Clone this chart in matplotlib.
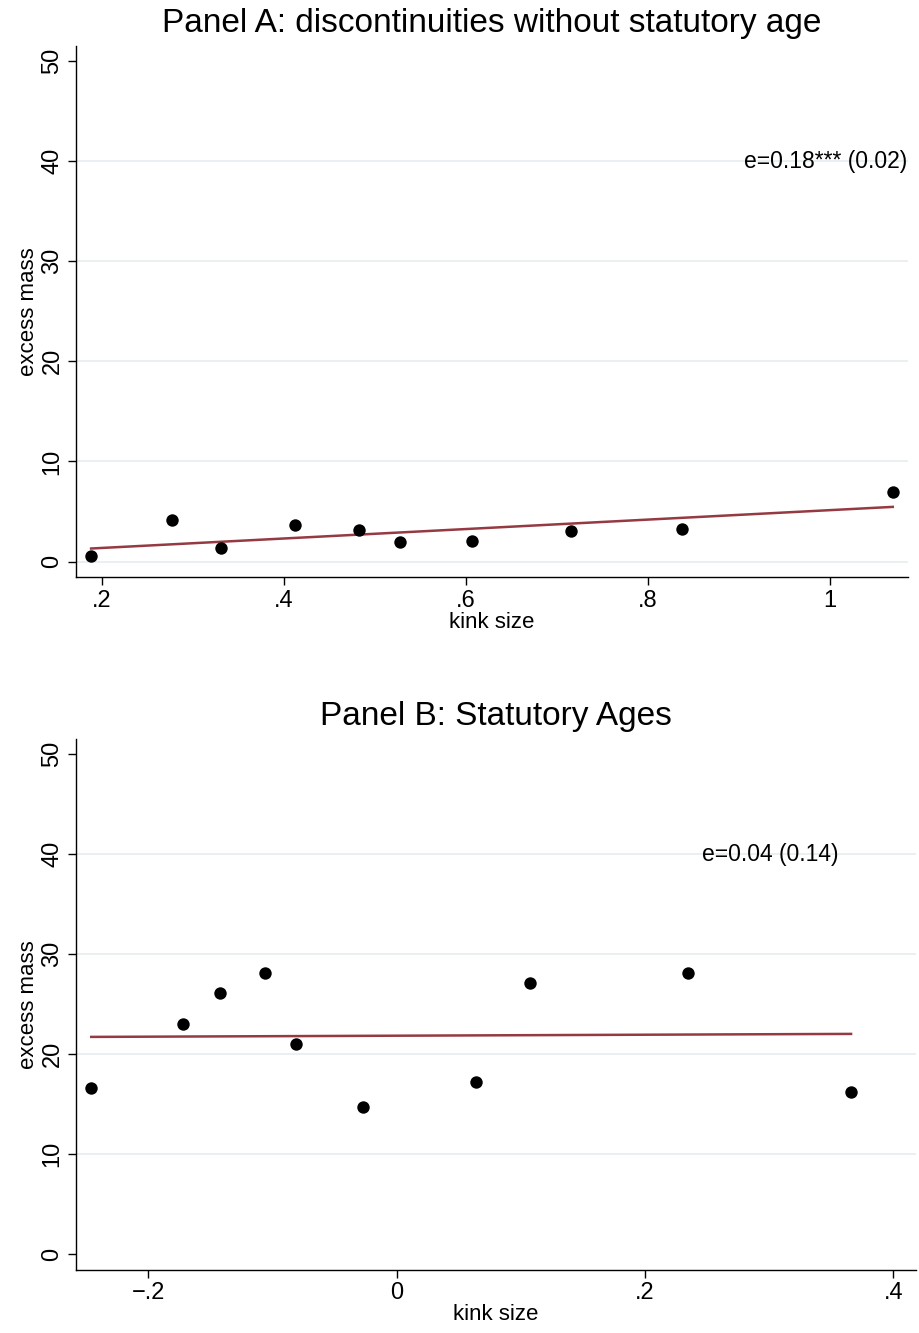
import numpy as np
import matplotlib
matplotlib.use("Agg")
import matplotlib.pyplot as plt

plt.rcParams['font.family'] = ['Liberation Sans', 'DejaVu Sans']

# Panel A: kinks without statutory age
kink_a = [0.188, 0.277, 0.331, 0.412, 0.482, 0.527, 0.607, 0.715, 0.837, 1.069]
mass_a = [0.53, 4.10, 1.33, 3.66, 3.12, 1.97, 2.07, 3.02, 3.29, 6.96]
fit_a = (0.414, 4.72)          # intercept, slope of the fitted line
label_a = "e=0.18*** (0.02)"

# Panel B: statutory ages
kink_b = [-0.246, -0.172, -0.142, -0.106, -0.081, -0.027, 0.064, 0.107, 0.235, 0.366]
mass_b = [16.6, 23.0, 26.1, 28.07, 21.0, 14.73, 17.2, 27.1, 28.1, 16.23]
fit_b = (21.85, 0.49)
label_b = "e=0.04 (0.14)"

xticks_a = [0.2, 0.4, 0.6, 0.8, 1.0]
xticklabels_a = ['.2', '.4', '.6', '.8', '1']
xticks_b = [-0.2, 0.0, 0.2, 0.4]
xticklabels_b = ['\u2212.2', '0', '.2', '.4']
yticks = [0, 10, 20, 30, 40, 50]

fig = plt.figure(figsize=(9.19, 13.33), dpi=100)
ax1 = fig.add_axes([0.0827, 0.5671, 0.9053, 0.3984])
ax2 = fig.add_axes([0.0827, 0.0473, 0.9140, 0.3984])


def panel(ax, x, y, fit, title, xticks, xlabels, xlim, grid_vals, note, note_x):
    x = np.asarray(x)
    y = np.asarray(y)
    for g in grid_vals:
        ax.axhline(g, color='#e8eff1', lw=1.3, zorder=0)
    ax.scatter(x, y, s=80, color='black', zorder=3, linewidths=0)
    # fitted line over the observed range
    xs = np.array([x.min(), x.max()])
    ax.plot(xs, fit[0] + fit[1] * xs, color='#953a42', lw=1.8, zorder=2)
    ax.set_xlim(*xlim)
    ax.set_ylim(-1.55, 51.5)
    ax.set_xticks(xticks)
    ax.set_xticklabels(xlabels)
    ax.set_yticks(yticks)
    ax.set_yticklabels([str(v) for v in yticks], rotation=90, va='center')
    ax.tick_params(direction='out', length=6, width=1, labelsize=17, pad=3)
    for s in ['top', 'right']:
        ax.spines[s].set_visible(False)
    for s in ['left', 'bottom']:
        ax.spines[s].set_linewidth(1.0)
    ax.set_xlabel('kink size', fontsize=16, labelpad=0)
    ax.set_ylabel('excess mass', fontsize=16, labelpad=2)
    ax.set_title(title, fontsize=24, pad=10)
    ax.text(note_x, 40, note, fontsize=16.5, ha='left', va='center', clip_on=False)


panel(ax1, kink_a, mass_a, fit_a, 'Panel A: discontinuities without statutory age',
      xticks_a, xticklabels_a, (0.1714, 1.0857), [0, 10, 20, 30, 40],
      label_a, 0.905)
panel(ax2, kink_b, mass_b, fit_b, 'Panel B: Statutory Ages',
      xticks_b, xticklabels_b, (-0.2583, 0.4183), [10, 20, 30, 40],
      label_b, 0.2456)

fig.savefig('out.png', dpi=100)
